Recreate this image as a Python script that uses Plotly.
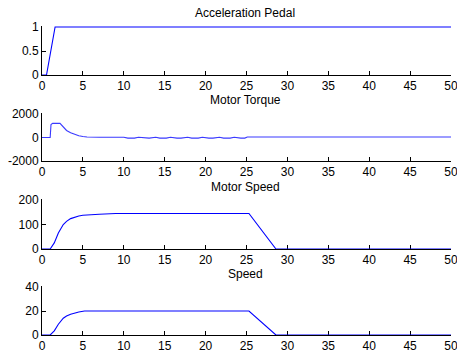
import plotly.graph_objects as go

# ---- data ----
titles = ["Acceleration Pedal", "Motor Torque", "Motor Speed", "Speed"]

pedal_t = [0, 0.55, 1.6, 50]
pedal_v = [0, 0, 1, 1]

torque_t = [0, 1.0, 1.1, 1.3, 2.2, 2.6, 3.0, 3.5, 4.0, 4.5, 5.0, 5.5, 7, 10,
            10.5, 11.3, 11.8, 12.6, 13.1, 13.9, 14.4, 15.2, 15.7, 16.5, 17.0, 17.8,
            18.3, 19.1, 19.6, 20.4, 20.9, 21.7, 22.2, 23.0, 23.5, 24.3, 24.8, 25.1,
            30, 40, 50]
torque_v = [0, 0, 1100, 1200, 1200, 900, 600, 400, 250, 150, 90, 40, 20, 20,
            -50, -50, 20, -50, -50, 20, -50, -50, 20, -50, -50, 20,
            -50, -50, 20, -50, -50, 20, -50, -50, 20, -50, -50, 40,
            40, 40, 40]

mspeed_t = [0, 1.0, 1.5, 2.0, 2.6, 3.0, 3.5, 4.0, 4.5, 5.0, 6.0, 7.0, 9.0, 25.3, 28.6, 50]
mspeed_v = [0, 0, 25, 65, 100, 113, 124, 131, 135, 138, 141, 142, 145, 145, 0, 0]

speed_t = [0, 1.0, 1.5, 2.0, 2.6, 3.0, 3.5, 4.0, 4.5, 5.2, 20.3, 20.5, 20.7, 21.9, 22.1, 22.3, 25.3, 28.6, 50]
speed_v = [0, 0, 3.5, 9, 14, 15.8, 17.3, 18.4, 19.2, 20, 20, 20.6, 20, 20, 20.6, 20, 20, 0, 0]

x_ticks = list(range(0, 51, 5))
y_ticks = [[0, 0.5, 1], [-2000, 0, 2000], [0, 100, 200], [0, 20, 40]]
y_ticklabels = [["0", "0.5", "1"], ["-2000", "0", "2000"], ["0", "100", "200"], ["0", "20", "40"]]
y_ranges = [[0, 1], [-2000, 2000], [0, 200], [0, 40]]

series = [(pedal_t, pedal_v), (torque_t, torque_v), (mspeed_t, mspeed_v), (speed_t, speed_v)]

# ---- layout (pixel based) ----
W, H = 457, 356
x0, x1 = 42, 451
panels_px = [(27, 75), (114, 161), (200, 249), (287, 335)]
title_px = [13, 100, 187, 274]
title_cx = 245
pad_px = 1.0  # extra room so lines on range edges are not clipped

fig = go.Figure()
font = dict(family="Liberation Sans, Arial, sans-serif", size=12, color="#000000")

layout = dict(
    width=W, height=H,
    margin=dict(l=0, r=0, t=0, b=0, pad=0),
    paper_bgcolor="white", plot_bgcolor="white",
    showlegend=False, font=font,
)
annotations = []
for i, ((tx, ty), (top, bot)) in enumerate(zip(series, panels_px)):
    n = i + 1
    xa = "x" if n == 1 else f"x{n}"
    ya = "y" if n == 1 else f"y{n}"
    color = "#0000ff" if i != 1 else "#3a3aff"
    fig.add_trace(go.Scatter(x=tx, y=ty, mode="lines",
                             line=dict(color=color, width=1.1),
                             xaxis=xa, yaxis=ya, hoverinfo="skip"))
    xkey = "xaxis" if n == 1 else f"xaxis{n}"
    ykey = "yaxis" if n == 1 else f"yaxis{n}"
    lo, hi = y_ranges[i]
    upp = (hi - lo) / (bot - top)
    layout[xkey] = dict(
        domain=[x0 / W, x1 / W], anchor=ya, range=[0, 50],
        tickmode="array", tickvals=x_ticks, ticktext=[str(v) for v in x_ticks],
        ticks="inside", ticklen=4, tickcolor="#000000", tickwidth=1,
        showline=True, linecolor="#000000", linewidth=1, mirror=False,
        showgrid=False, zeroline=False, tickfont=font, fixedrange=True,
        automargin=False, ticklabeloverflow="allow", layer="below traces",
    )
    layout[ykey] = dict(
        domain=[1 - bot / H, 1 - (top - pad_px) / H], anchor=xa,
        range=[lo, hi + pad_px * upp],
        tickmode="array", tickvals=y_ticks[i], ticktext=y_ticklabels[i],
        ticks="inside", ticklen=4, tickcolor="#000000", tickwidth=1,
        showline=True, linecolor="#000000", linewidth=1, mirror=False,
        showgrid=False, zeroline=False, tickfont=font, fixedrange=True,
        automargin=False, ticklabeloverflow="allow", layer="below traces",
    )
    annotations.append(dict(
        text=titles[i], x=title_cx / W, y=1 - title_px[i] / H,
        xref="paper", yref="paper", showarrow=False,
        xanchor="center", yanchor="middle", font=font,
    ))
layout["annotations"] = annotations
fig.update_layout(**layout)

fig.write_html("out.html", config={"displayModeBar": False})
